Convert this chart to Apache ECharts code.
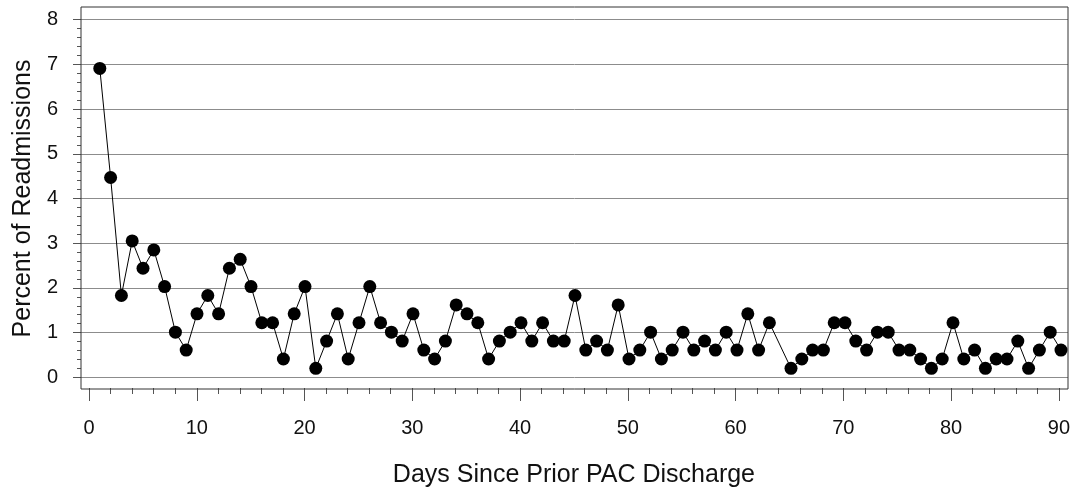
<!DOCTYPE html>
<html>
<head>
<meta charset="utf-8">
<script src="https://cdn.jsdelivr.net/npm/echarts@6/dist/echarts.min.js"></script>
<style>
  html, body { margin: 0; padding: 0; background: #fff; }
  #chart { width: 1073px; height: 493px; }
</style>
</head>
<body>
<div id="chart"></div>
<script>
// ---- Data ----
const days = [
  1, 2, 3, 4, 5, 6, 7, 8, 9, 10,
  11, 12, 13, 14, 15, 16, 17, 18, 19, 20,
  21, 22, 23, 24, 25, 26, 27, 28, 29, 30,
  31, 32, 33, 34, 35, 36, 37, 38, 39, 40,
  41, 42, 43, 44, 45, 46, 47, 48, 49, 50,
  51, 52, 53, 54, 55, 56, 57, 58, 59, 60,
  61, 62, 63, 65, 66, 67, 68, 69, 70,
  71, 72, 73, 74, 75, 76, 77, 78, 79, 80,
  81, 82, 83, 84, 85, 86, 87, 88, 89, 90
];
const percents = [
  6.91, 4.47, 1.83, 3.05, 2.44, 2.85, 2.03, 1.01, 0.61, 1.42,
  1.83, 1.42, 2.44, 2.64, 2.03, 1.22, 1.22, 0.41, 1.42, 2.03,
  0.20, 0.81, 1.42, 0.41, 1.22, 2.03, 1.22, 1.01, 0.81, 1.42,
  0.61, 0.41, 0.81, 1.62, 1.42, 1.22, 0.41, 0.81, 1.01, 1.22,
  0.81, 1.22, 0.81, 0.81, 1.83, 0.61, 0.81, 0.61, 1.62, 0.41,
  0.61, 1.01, 0.41, 0.61, 1.01, 0.61, 0.81, 0.61, 1.01, 0.61,
  1.42, 0.61, 1.22, 0.20, 0.41, 0.61, 0.61, 1.22, 1.22,
  0.81, 0.61, 1.01, 1.01, 0.61, 0.61, 0.41, 0.20, 0.41, 1.22,
  0.41, 0.61, 0.20, 0.41, 0.41, 0.81, 0.20, 0.61, 1.01, 0.61
];
const xTitle = 'Days Since Prior PAC Discharge';
const yTitle = 'Percent of Readmissions';
const xMin = 0, xMax = 90, xStep = 10;
const yMin = 0, yMax = 8, yStep = 1;

const seriesData = days.map((d, i) => [d, percents[i]]);

const FONT = '"Liberation Sans", Arial, sans-serif';
const chart = echarts.init(document.getElementById('chart'), null, { renderer: 'canvas' });

const hidden = { show: false };
const tickStyle = { color: '#555', width: 1 };
chart.setOption({
  animation: false,
  backgroundColor: '#fff',
  grid: [
    // 0: frame
    { left: 81, right: 5, top: 7, bottom: 104, show: true, borderColor: '#333', borderWidth: 1, backgroundColor: 'transparent', z: 3 },
    // 1: y axis + gridlines (full frame width)
    { left: 81, right: 5, top: 19.7, bottom: 115.7 },
    // 2: x axis at frame bottom
    { left: 89, right: 12, top: 7, bottom: 104 },
    // 3: data area
    { left: 89, right: 12, top: 19.7, bottom: 115.7 }
  ],
  xAxis: [
    { gridIndex: 0, type: 'value', min: 0, max: 1, show: false },
    { gridIndex: 1, type: 'value', min: 0, max: 1, show: false },
    {
      gridIndex: 2, type: 'value', min: xMin, max: xMax, interval: xStep,
      axisLine: { show: false },
      axisTick: { show: true, inside: false, length: 13, lineStyle: tickStyle },
      minorTick: { show: true, splitNumber: 5, length: 6, lineStyle: tickStyle },
      splitLine: hidden,
      axisLabel: { margin: 30, fontFamily: FONT, fontSize: 20, color: '#111' },
      name: xTitle, nameLocation: 'middle', nameGap: 75,
      nameTextStyle: { fontFamily: FONT, fontSize: 25, color: '#111' }
    },
    { gridIndex: 3, type: 'value', min: xMin, max: xMax, show: false }
  ],
  yAxis: [
    { gridIndex: 0, type: 'value', min: 0, max: 1, show: false },
    {
      gridIndex: 1, type: 'value', min: yMin, max: yMax, interval: yStep,
      axisLine: { show: false },
      axisTick: { show: true, inside: false, length: 8, lineStyle: tickStyle },
      minorTick: { show: true, splitNumber: 5, length: 4, lineStyle: tickStyle },
      splitLine: { show: true, lineStyle: { color: '#8c8c8c', width: 1 } },
      axisLabel: { margin: 23, fontFamily: FONT, fontSize: 20, color: '#111' },
      name: yTitle, nameLocation: 'middle', nameGap: 45, nameRotate: 90,
      nameTextStyle: { fontFamily: FONT, fontSize: 25, color: '#111' }
    },
    { gridIndex: 2, type: 'value', min: 0, max: 1, show: false },
    { gridIndex: 3, type: 'value', min: yMin, max: yMax, show: false }
  ],
  series: [{
    type: 'line',
    xAxisIndex: 3, yAxisIndex: 3,
    data: seriesData,
    symbol: 'circle',
    symbolSize: 13,
    showAllSymbol: true,
    itemStyle: { color: '#000' },
    lineStyle: { color: '#000', width: 1 },
    z: 5
  }]
});
</script>
</body>
</html>
